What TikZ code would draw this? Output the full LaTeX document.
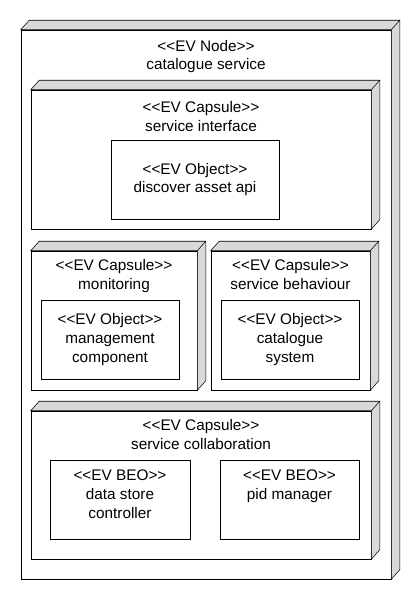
\documentclass[tikz,border=0pt]{standalone}
\usepackage{fontspec}
\setmainfont{Liberation Sans}[Ligatures=TeXOff]
\usetikzlibrary{positioning}

\begin{document}
\begin{tikzpicture}[
  x=0.75pt, y=-0.75pt,
  font=\fontsize{11.5}{14}\selectfont,
  wh/.style 2 args={minimum width=#1*0.75pt,minimum height=#2*0.75pt},
  box/.style={draw,fill=white,inner sep=0pt},
  title/.style={align=center,anchor=north,inner sep=0pt},
  depth/.style={draw,fill=gray!30}
]
\useasboundingbox (0,0) rectangle (420,600);

% node and capsules (front faces)
\node[box,wh={370}{549}] (evnode) at (206,304.5) {};
\node[title,below=7.5pt of evnode.north] (evnodet) {<<EV Node>>\\catalogue service};

\node[box,wh={340}{139}] (iface) at (201,159.5) {};
\node[title,below=8.5pt of iface.north] (ifacet) {<<EV Capsule>>\\service interface};
\node[box,wh={168}{79},align=center] (discover) at (195,179.5) {<<EV Object>>\\discover asset api};

\node[box,wh={166}{139}] (monitor) at (114,320.5) {};
\node[title,below=6.5pt of monitor.north] (monitort) {<<EV Capsule>>\\monitoring};
\node[box,wh={138}{79},align=center] (mgmt) at (110,339.5) {<<EV Object>>\\management\\component};

\node[box,wh={159}{139}] (behav) at (290.5,320.5) {};
\node[title,below=6.5pt of behav.north] (behavt) {<<EV Capsule>>\\service behaviour};
\node[box,wh={138}{79},align=center] (catsys) at (290,339.5) {<<EV Object>>\\catalogue\\system};

\node[box,wh={340}{148}] (collab) at (201,485) {};
\node[title,below=6.5pt of collab.north] (collabt) {<<EV Capsule>>\\service collaboration};
\node[box,wh={140}{79}] (dsc) at (120,499.5) {};
\node[title,below=7.5pt of dsc.north] (dsct) {<<EV BEO>>\\data store\\controller};
\node[box,wh={139}{79}] (pid) at (289.5,499.5) {};
\node[title,below=7.5pt of pid.north] (pidt) {<<EV BEO>>\\pid manager};

% 3d depth faces
\foreach \n in {evnode,iface,monitor,behav,collab}
  \draw[depth] (\n.north west) -- ++(8.5,-9.5) -| ([shift={(8.5,-9.5)}]\n.south east)
    -- (\n.south east) -- (\n.north east) -- cycle
    (\n.north east) -- ++(8.5,-9.5);
\end{tikzpicture}
\end{document}
